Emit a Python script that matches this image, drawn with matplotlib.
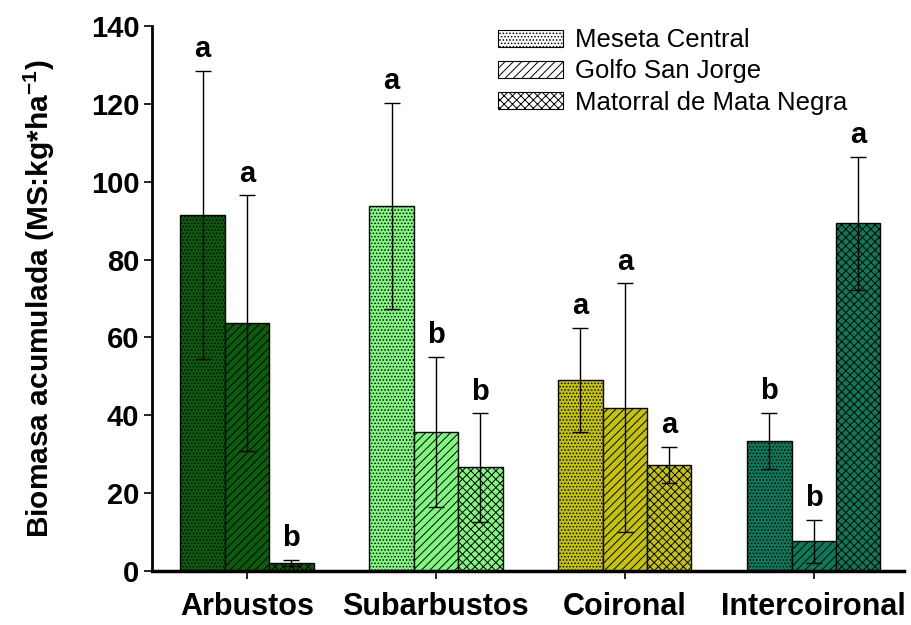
import numpy as np
import matplotlib
matplotlib.use('Agg')
import matplotlib.pyplot as plt
from matplotlib.patches import Patch

plt.rcParams['font.family'] = ['Liberation Sans', 'DejaVu Sans']
plt.rcParams['hatch.linewidth'] = 0.7
plt.rcParams['mathtext.fontset'] = 'custom'
plt.rcParams['mathtext.bf'] = 'Liberation Sans:bold'

# Biomasa acumulada por grupo funcional y zona
grupos = ['Arbustos', 'Subarbustos', 'Coironal', 'Intercoironal']
zonas = ['Meseta Central', 'Golfo San Jorge', 'Matorral de Mata Negra']

meseta = [91.5, 93.8, 49.1, 33.4]
golfo = [63.6, 35.8, 42.0, 7.6]
mata = [2.0, 26.6, 27.2, 89.3]

meseta_err = [37.0, 26.4, 13.4, 7.3]
golfo_err = [32.9, 19.3, 31.9, 5.6]
mata_err = [0.8, 13.9, 4.7, 17.0]

meseta_let = ['a', 'a', 'a', 'b']
golfo_let = ['a', 'b', 'a', 'b']
mata_let = ['b', 'b', 'a', 'a']

colores = ['#0b5c0b', '#80f880', '#c6c400', '#0a7a5a']
tramas = ['.....', '////', 'xxxx']

series = [(meseta, meseta_err, meseta_let),
          (golfo, golfo_err, golfo_let),
          (mata, mata_err, mata_let)]

fig = plt.figure(figsize=(9.11, 6.25), dpi=100)
ax = fig.add_axes([0.1668, 0.0864, 0.826, 0.872])

x = np.arange(len(grupos))
ancho = 0.235

for j, (vals, errs, lets) in enumerate(series):
    pos = x + (j - 1) * ancho
    ax.bar(pos, vals, width=ancho, color=colores, edgecolor='black',
           linewidth=1.0, hatch=tramas[j], zorder=2)
    ax.errorbar(pos, vals, yerr=errs, fmt='none', ecolor='black',
                elinewidth=1.0, capsize=6, capthick=1.0, zorder=3)
    for p, v, e, l in zip(pos, vals, errs, lets):
        ax.text(p, v + e + 2.0, l, ha='center', va='bottom',
                fontsize=21, fontweight='bold')

ax.set_xlim(-0.503, 3.48)
ax.set_ylim(0, 140)
ax.set_yticks(np.arange(0, 141, 20))
ax.set_xticks(x)
ax.set_xticklabels(grupos, fontsize=22, fontweight='bold')
for t in ax.get_yticklabels():
    t.set_fontsize(21)
    t.set_fontweight('bold')
ax.tick_params(axis='y', direction='out', length=6, width=1.2, pad=3)
ax.tick_params(axis='x', direction='out', length=6, width=1.2, pad=9)

ax.set_ylabel('Biomasa acumulada (MS:kg*ha$\\mathbf{^{-1}}$)', fontsize=21.5,
              fontweight='bold', labelpad=24)

ax.spines['top'].set_visible(False)
ax.spines['right'].set_visible(False)
ax.spines['left'].set_linewidth(2)
ax.spines['bottom'].set_linewidth(2.5)

handles = [Patch(facecolor='white', edgecolor='black', hatch=tramas[j],
                 linewidth=0.8, label=zonas[j]) for j in range(3)]
fig.legend(handles=handles, loc='upper left', bbox_to_anchor=(0.5467, 0.955),
           bbox_transform=fig.transFigure, frameon=False, fontsize=18.5,
           handlelength=2.53, handleheight=0.65, handletextpad=0.45,
           labelspacing=0.28, borderpad=0, borderaxespad=0)

fig.savefig('out.png', dpi=100)
